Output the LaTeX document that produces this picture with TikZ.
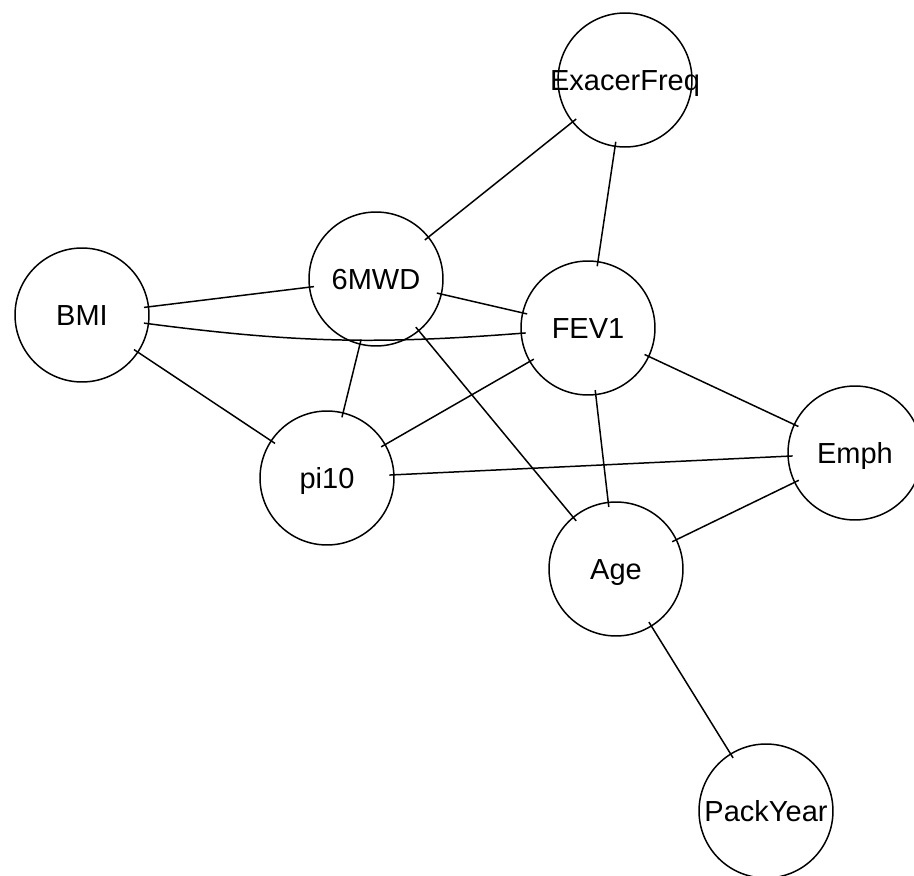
\documentclass[tikz,border=0pt]{standalone}
\usepackage{fontspec}
\setmainfont{Liberation Sans}
\begin{document}
\begin{tikzpicture}[x=0.02cm,y=-0.02cm, % one unit = one pixel of the layout
  var/.style={draw,circle,line width=0.85pt,minimum size=2.68cm,inner sep=0pt,
    text height=12pt,text depth=0pt,font=\fontsize{16.5}{20}\selectfont},
  link/.style={line width=0.85pt,shorten <=-3pt,shorten >=-3pt}]
\useasboundingbox (0,0) rectangle (914,876);

\node[var] (exacer) at (625,80) {\makebox[0pt]{ExacerFreq}};
\node[var] (mwd) at (376,279) {\makebox[0pt]{6MWD}};
\node[var] (bmi) at (82,315) {\makebox[0pt]{BMI}};
\node[var] (fev) at (588,328) {\makebox[0pt]{FEV1}};
\node[var] (pi) at (327,478) {\makebox[0pt]{pi10}};
\node[var] (emph) at (855,453) {\makebox[0pt]{Emph}};
\node[var] (age) at (616,569) {\makebox[0pt]{Age}};
\node[var] (pack) at (766,811) {\makebox[0pt]{PackYear}};

\foreach \a/\b in {exacer/mwd,exacer/fev,bmi/mwd,mwd/fev,mwd/pi,mwd/age,bmi/pi,
  fev/pi,fev/emph,fev/age,pi/emph,emph/age,age/pack}
\draw[link] (\a) -- (\b);
\draw[link] (bmi) to[bend right=6] (fev);

\end{tikzpicture}
\end{document}
